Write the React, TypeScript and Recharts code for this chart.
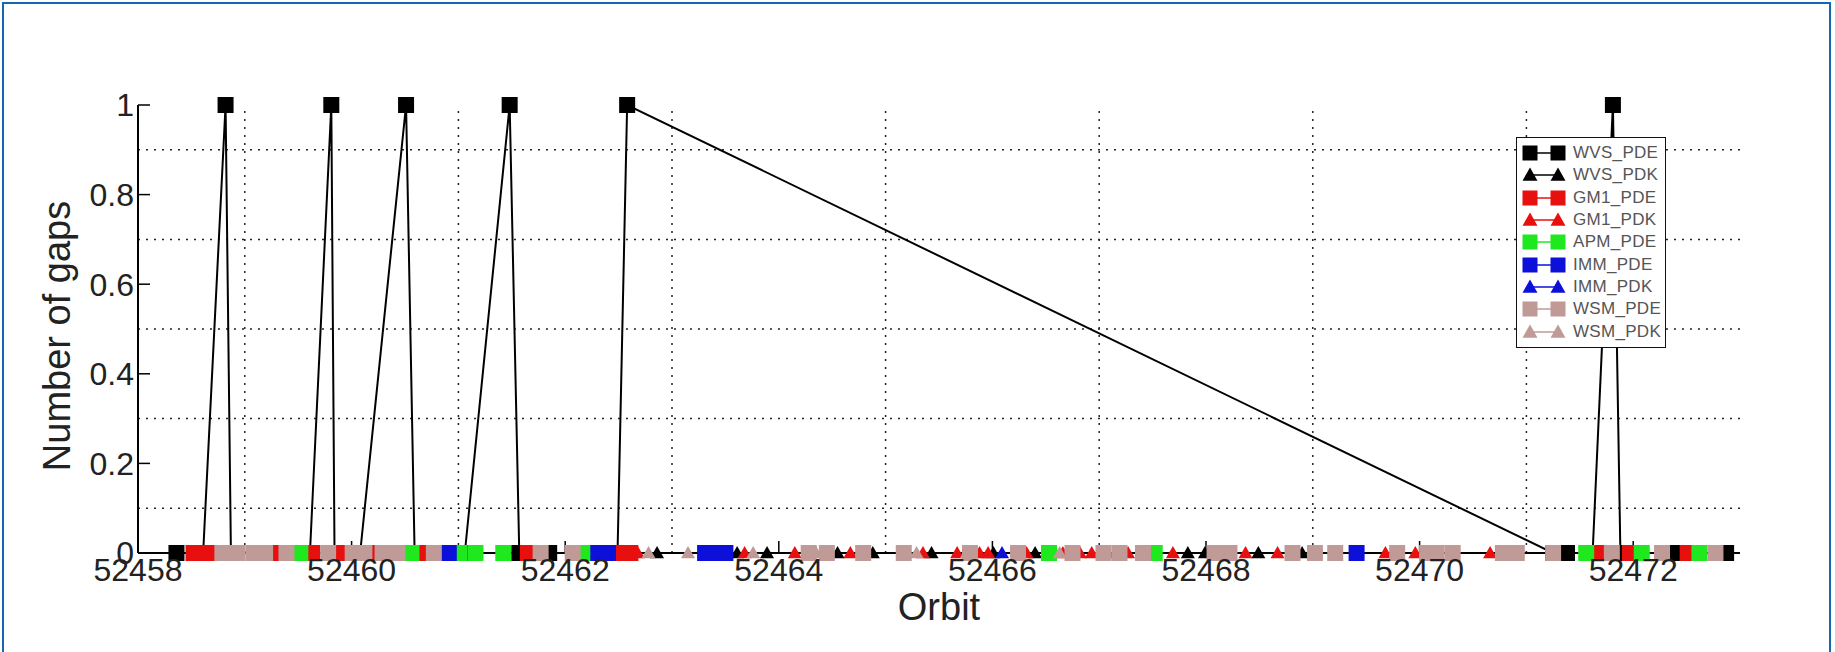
import { LineChart, Line, XAxis, YAxis, ReferenceLine, Legend } from 'recharts';

const FONT = "'Liberation Sans', Arial, sans-serif";

const ORBIT_TICKS = [52458, 52460, 52462, 52464, 52466, 52468, 52470, 52472];
const ORBIT_GRID = [52459, 52461, 52463, 52465, 52467, 52469, 52471];
const GAP_TICKS = [0, 0.2, 0.4, 0.6, 0.8, 1];
const GAP_GRID = [0.1, 0.3, 0.5, 0.7, 0.9];

// [orbit, number of gaps]
const WVS_PDE: [number, number][] = [
  [52458.36, 0], [52458.61, 0], [52458.82, 1], [52458.87, 0], [52459.61, 0],
  [52459.81, 1], [52459.84, 0], [52460.08, 0], [52460.51, 1], [52460.59, 0],
  [52461.06, 0], [52461.48, 1], [52461.57, 0], [52461.85, 0], [52462.49, 0],
  [52462.58, 1], [52471.25, 0], [52471.38, 0], [52471.62, 0],
  [52471.81, 1], [52471.88, 0], [52472.37, 0], [52472.87, 0],
];
const WVS_PDK: [number, number][] = [
  [52462.86, 0], [52463.61, 0], [52463.89, 0], [52464.55, 0], [52464.88, 0],
  [52465.43, 0], [52466.01, 0], [52466.4, 0], [52467.83, 0], [52467.99, 0],
  [52468.49, 0], [52468.9, 0],
];
const GM1_PDE: [number, number][] = [
  [52458.52, 0], [52458.65, 0], [52459.26, 0], [52459.63, 0], [52459.91, 0],
  [52460.19, 0], [52460.66, 0], [52461.65, 0], [52462.51, 0], [52462.61, 0],
  [52471.67, 0], [52471.97, 0], [52472.51, 0],
];
const GM1_PDK: [number, number][] = [
  [52462.68, 0], [52463.68, 0], [52464.15, 0], [52464.67, 0], [52465.35, 0],
  [52465.67, 0], [52465.88, 0], [52465.96, 0], [52466.32, 0], [52466.66, 0],
  [52466.82, 0], [52466.93, 0], [52467.08, 0], [52467.27, 0], [52467.69, 0],
  [52468.37, 0], [52468.67, 0], [52469.68, 0], [52469.96, 0], [52470.66, 0],
];
const APM_PDE: [number, number][] = [
  [52459.52, 0], [52460.56, 0], [52461.01, 0], [52461.16, 0], [52461.42, 0],
  [52462.17, 0], [52466.53, 0], [52467.52, 0], [52471.56, 0], [52472.08, 0],
  [52472.62, 0],
];
const IMM_PDE: [number, number][] = [
  [52460.91, 0], [52462.31, 0], [52462.4, 0], [52463.31, 0], [52463.43, 0],
  [52463.5, 0], [52469.41, 0],
];
const IMM_PDK: [number, number][] = [[52466.09, 0]];
const WSM_PDE: [number, number][] = [
  [52458.79, 0], [52458.93, 0], [52459.08, 0], [52459.19, 0], [52459.39, 0],
  [52459.78, 0], [52460.01, 0], [52460.12, 0], [52460.29, 0], [52460.43, 0],
  [52460.77, 0], [52461.77, 0], [52462.07, 0], [52464.28, 0], [52464.45, 0],
  [52464.79, 0], [52465.17, 0], [52465.79, 0], [52466.24, 0], [52466.75, 0],
  [52467.04, 0], [52467.19, 0], [52467.41, 0], [52468.08, 0], [52468.22, 0],
  [52468.81, 0], [52469.02, 0], [52469.21, 0], [52469.79, 0], [52470.07, 0],
  [52470.16, 0], [52470.31, 0], [52470.78, 0], [52470.91, 0], [52471.25, 0],
  [52471.8, 0], [52472.27, 0], [52472.77, 0],
];
const WSM_PDK: [number, number][] = [
  [52462.78, 0], [52463.15, 0], [52463.76, 0], [52464.35, 0], [52465.29, 0],
  [52465.76, 0], [52466.63, 0],
];

type Shape = 'square' | 'triangle';
interface Series {
  name: string;
  color: string;
  shape: Shape;
  points: [number, number][];
}

const SERIES: Series[] = [
  { name: 'WVS_PDE', color: '#000000', shape: 'square', points: WVS_PDE },
  { name: 'WVS_PDK', color: '#000000', shape: 'triangle', points: WVS_PDK },
  { name: 'GM1_PDE', color: '#e8100f', shape: 'square', points: GM1_PDE },
  { name: 'GM1_PDK', color: '#e8100f', shape: 'triangle', points: GM1_PDK },
  { name: 'APM_PDE', color: '#1fe81f', shape: 'square', points: APM_PDE },
  { name: 'IMM_PDE', color: '#0c10d8', shape: 'square', points: IMM_PDE },
  { name: 'IMM_PDK', color: '#0c10d8', shape: 'triangle', points: IMM_PDK },
  { name: 'WSM_PDE', color: '#c09a97', shape: 'square', points: WSM_PDE },
  { name: 'WSM_PDK', color: '#c09a97', shape: 'triangle', points: WSM_PDK },
];

function markerShape(shape: Shape, color: string, cx: number, cy: number, size: number, key?: string) {
  const h = size / 2;
  if (shape === 'square') {
    return <rect key={key} x={cx - h} y={cy - h} width={size} height={size} fill={color} />;
  }
  const pts = `${cx},${cy - h} ${cx - h},${cy + h * 0.75} ${cx + h},${cy + h * 0.75}`;
  return <polygon key={key} points={pts} fill={color} />;
}

const makeDot = (s: Series) => (props: any) => {
  const { cx, cy, index } = props;
  const key = `${s.name}-${index}`;
  if (cx == null || cy == null) return <g key={key} />;
  return markerShape(s.shape, s.color, cx, cy, s.shape === 'square' ? 16 : 14, key);
};

function GapLegend() {
  return (
    <div
      style={{
        border: '1.5px solid #111',
        background: '#fff',
        padding: '4px 0 4px 5px',
        width: 150,
        boxSizing: 'border-box',
        fontFamily: FONT,
      }}
    >
      {SERIES.map((s) => (
        <div key={s.name} style={{ display: 'flex', alignItems: 'center', height: 22.3 }}>
          <svg width={45} height={18} style={{ display: 'block' }}>
            <line x1={8} y1={9} x2={36} y2={9} stroke={s.color} strokeWidth={1.5} />
            {markerShape(s.shape, s.color, 8, 9, 15)}
            {markerShape(s.shape, s.color, 36, 9, 15)}
          </svg>
          <span style={{ marginLeft: 6, fontSize: 17, color: '#555', letterSpacing: 0.3 }}>{s.name}</span>
        </div>
      ))}
    </div>
  );
}

export default function App() {
  return (
    <div style={{ position: 'absolute', left: 0, top: 0, width: 1835, height: 652, background: '#fff' }}>
      <LineChart width={1835} height={652} margin={{ top: 105, right: 95, bottom: 0, left: 0 }}>
        {ORBIT_GRID.map((v) => (
          <ReferenceLine key={`gx${v}`} x={v} stroke="#222" strokeWidth={1.5} strokeDasharray="2 6" />
        ))}
        {GAP_GRID.map((v) => (
          <ReferenceLine key={`gy${v}`} y={v} stroke="#222" strokeWidth={1.5} strokeDasharray="2 6" />
        ))}
        {SERIES.map((s) => (
          <Line
            key={s.name}
            name={s.name}
            data={s.points.map(([x, y]) => ({ x, y }))}
            dataKey="y"
            stroke={s.color}
            strokeWidth={s.name === 'WVS_PDE' ? 2 : 1.5}
            dot={makeDot(s)}
            activeDot={false}
            isAnimationActive={false}
          />
        ))}
        <XAxis
          type="number"
          dataKey="x"
          domain={[52458, 52473]}
          ticks={ORBIT_TICKS}
          interval={0}
          height={99}
          tickSize={-12}
          tickMargin={17}
          axisLine={{ stroke: '#000', strokeWidth: 2 }}
          tickLine={{ stroke: '#000', strokeWidth: 1.5 }}
          tick={{ fill: '#222', fontSize: 32, fontFamily: FONT }}
          label={{ value: 'Orbit', position: 'insideBottom', offset: 32, fill: '#222', fontSize: 38, fontFamily: FONT }}
        />
        <XAxis
          xAxisId="top"
          orientation="top"
          type="number"
          domain={[52458, 52473]}
          ticks={ORBIT_TICKS}
          interval={0}
          height={0}
          tickSize={-12}
          tick={false}
          axisLine={{ stroke: '#000', strokeWidth: 2 }}
          tickLine={{ stroke: '#000', strokeWidth: 1.5 }}
        />
        <YAxis
          type="number"
          domain={[0, 1]}
          ticks={GAP_TICKS}
          interval={0}
          width={138}
          tickSize={-12}
          tickMargin={16}
          axisLine={{ stroke: '#000', strokeWidth: 2 }}
          tickLine={{ stroke: '#000', strokeWidth: 1.5 }}
          tick={{ fill: '#222', fontSize: 32, fontFamily: FONT }}
          label={{
            value: 'Number of gaps',
            angle: -90,
            position: 'insideLeft',
            offset: 57,
            dy: 7,
            fill: '#222',
            fontSize: 38,
            fontFamily: FONT,
            style: { textAnchor: 'middle' },
          }}
        />
        <YAxis
          yAxisId="right"
          orientation="right"
          type="number"
          domain={[0, 1]}
          ticks={GAP_TICKS}
          interval={0}
          width={0}
          tickSize={-12}
          tick={false}
          axisLine={{ stroke: '#000', strokeWidth: 2 }}
          tickLine={{ stroke: '#000', strokeWidth: 1.5 }}
        />
        <Legend
          layout="horizontal"
          verticalAlign="middle"
          align="center"
          content={<GapLegend />}
          wrapperStyle={{ left: 1516, top: 137, width: 150 }}
        />
      </LineChart>
      <div
        style={{
          position: 'absolute',
          left: 2,
          top: 2,
          width: 1829,
          height: 660,
          borderTop: '2px solid #1467b0',
          borderLeft: '2px solid #1467b0',
          borderRight: '2px solid #1467b0',
          boxSizing: 'border-box',
          pointerEvents: 'none',
        }}
      />
    </div>
  );
}
